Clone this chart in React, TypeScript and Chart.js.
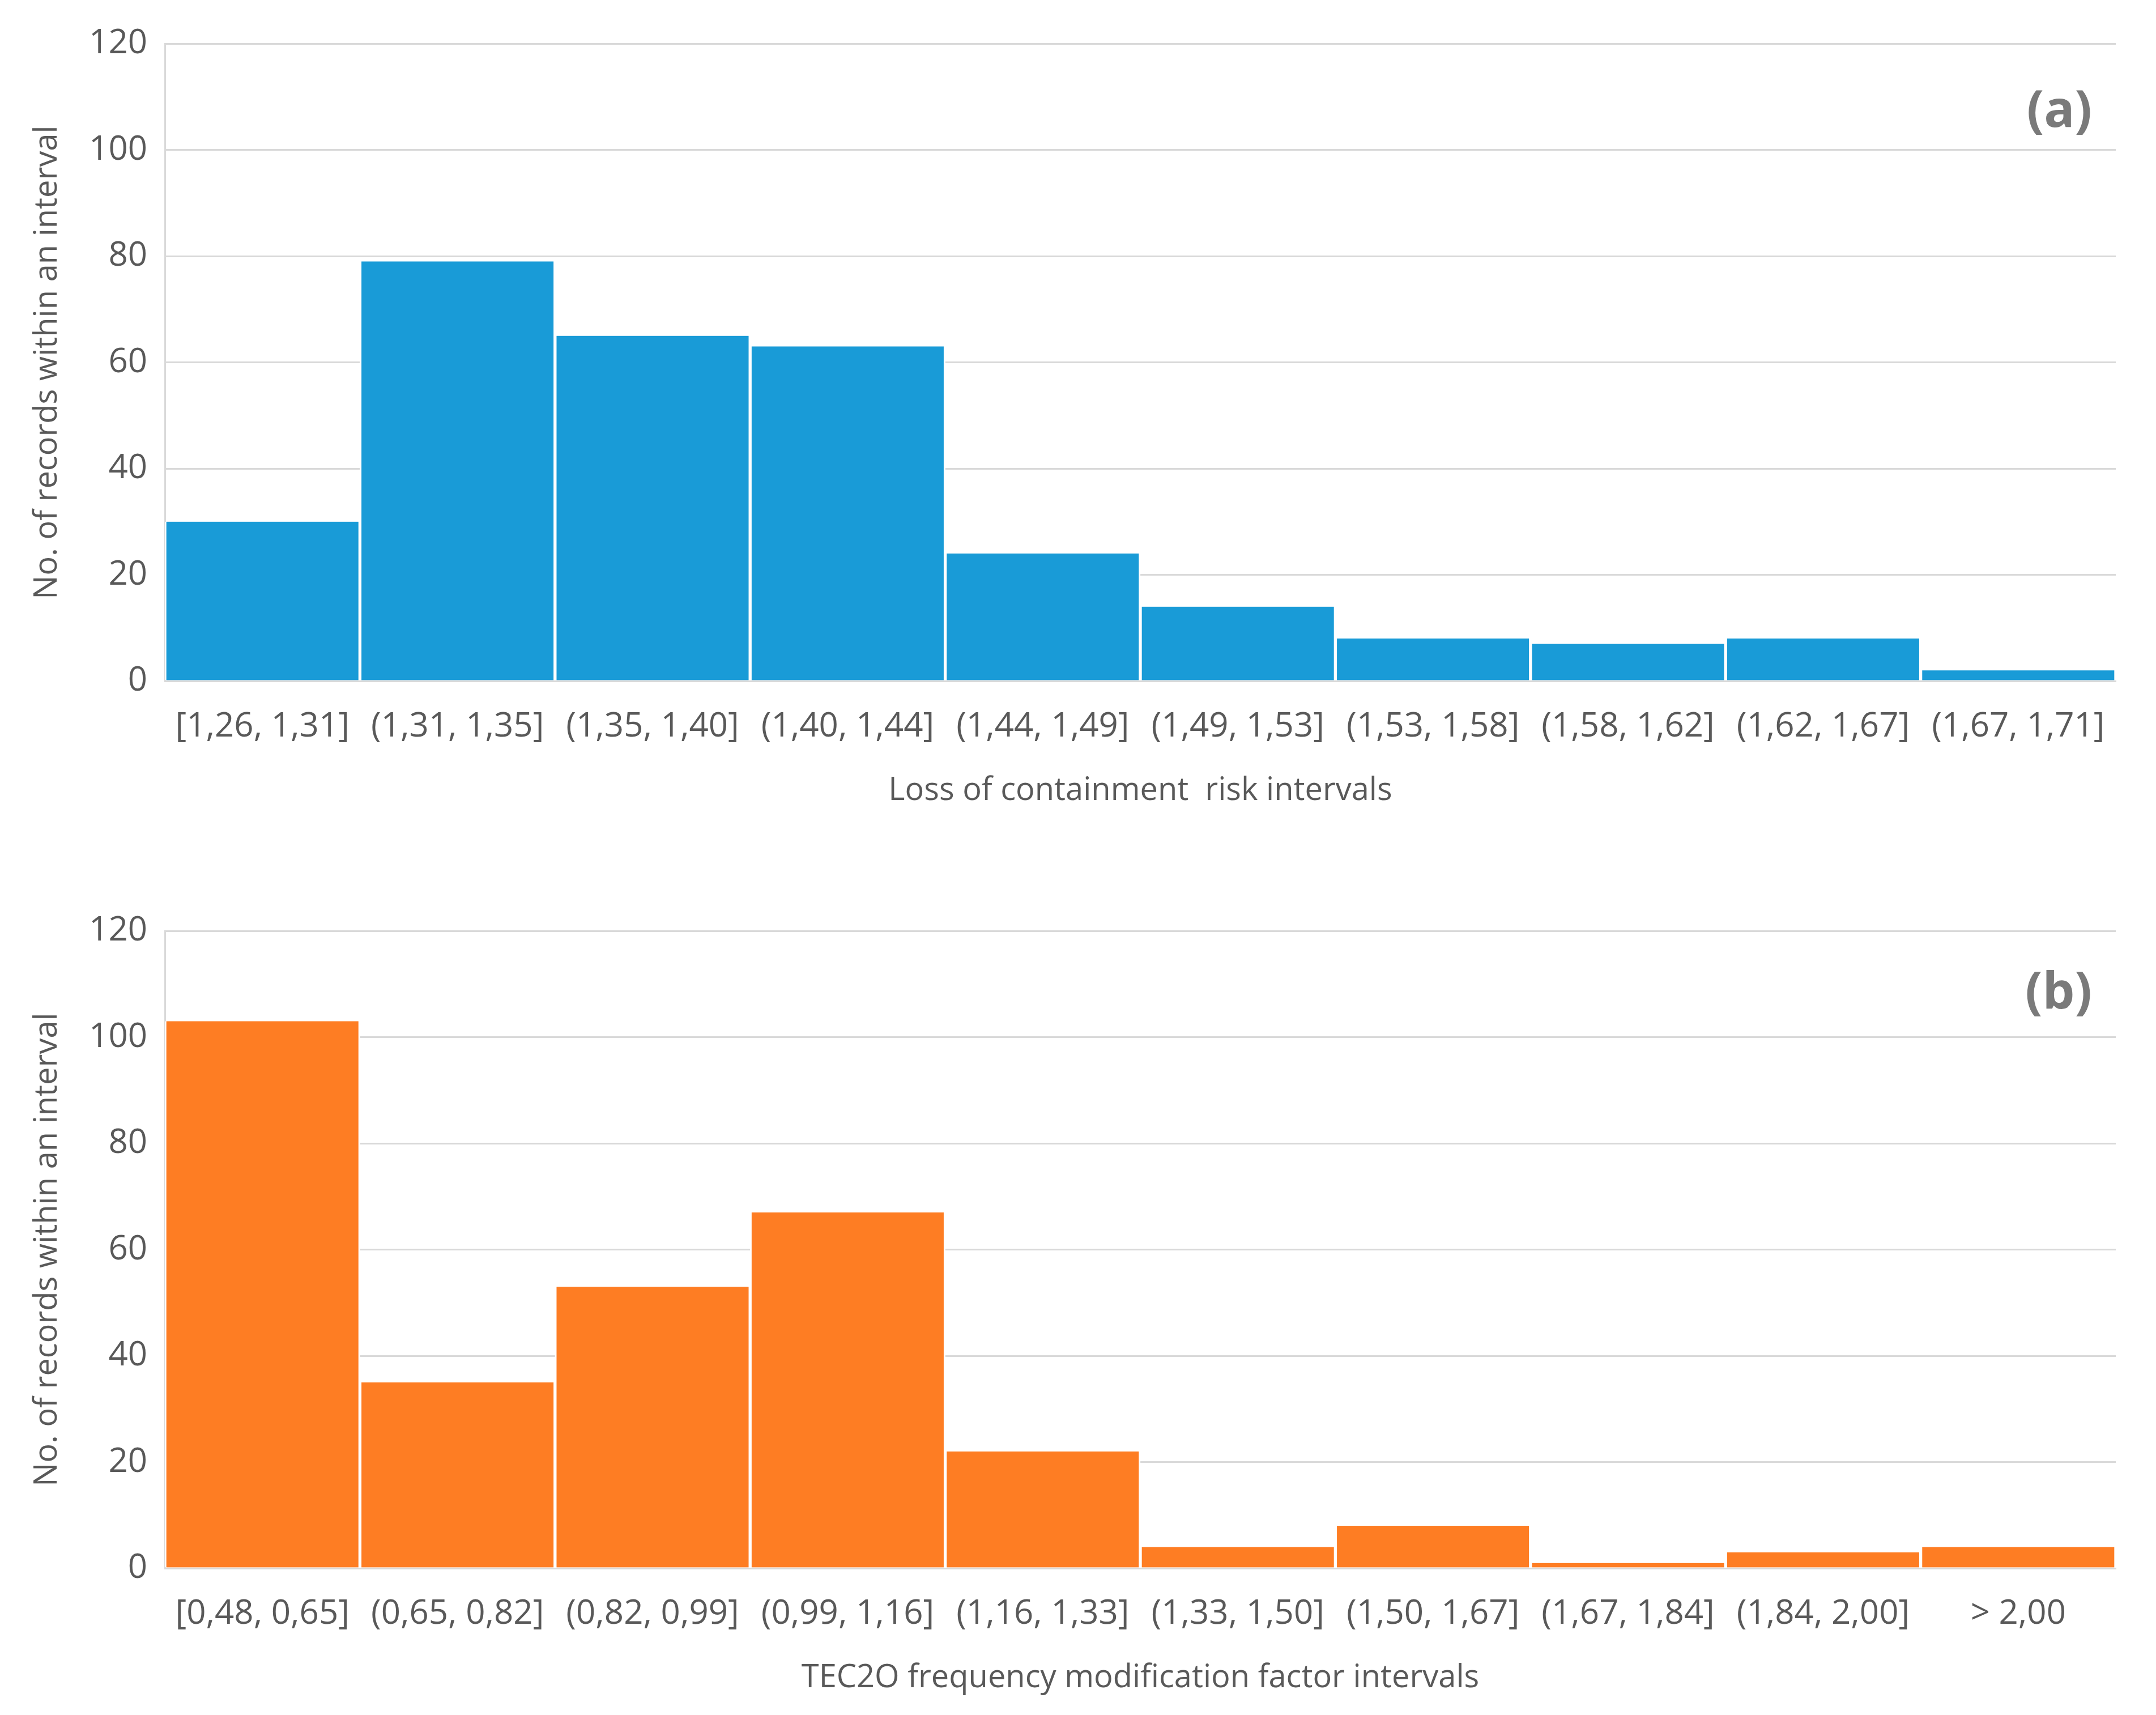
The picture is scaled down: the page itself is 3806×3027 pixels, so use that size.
import React, { useEffect, useRef } from "react";
import { Chart, registerables } from "chart.js";

Chart.register(...registerables);

// ---- data ----
const categoriesA = [
  "[1,26, 1,31]",
  "(1,31, 1,35]",
  "(1,35, 1,40]",
  "(1,40, 1,44]",
  "(1,44, 1,49]",
  "(1,49, 1,53]",
  "(1,53, 1,58]",
  "(1,58, 1,62]",
  "(1,62, 1,67]",
  "(1,67, 1,71]",
];
const countsA = [30, 79, 65, 63, 24, 14, 8, 7, 8, 2];

const categoriesB = [
  "[0,48, 0,65]",
  "(0,65, 0,82]",
  "(0,82, 0,99]",
  "(0,99, 1,16]",
  "(1,16, 1,33]",
  "(1,33, 1,50]",
  "(1,50, 1,67]",
  "(1,67, 1,84]",
  "(1,84, 2,00]",
  "> 2,00",
];
const countsB = [103, 35, 53, 67, 22, 4, 8, 1, 3, 4];

const yTickValues = [0, 20, 40, 60, 80, 100, 120];
const xTitleA = "Loss of containment  risk intervals";
const xTitleB = "TEC2O frequency modification factor intervals";
const yTitleText = "No. of records within an interval";

// ---- layout / style ----
const W = 3806;
const H = 1442;
const FONT = "'Open Sans', 'Noto Sans', sans-serif";
const TEXT_GRAY = "#595959";
const GRID = "#d9d9d9";

type Props = {
  top: number;
  labels: string[];
  values: number[];
  color: string;
  xTitle: string;
  panel: string;
  panelDy: number;
};

function Histogram({ top, labels, values, color, xTitle, panel, panelDy }: Props) {
  const ref = useRef<HTMLCanvasElement | null>(null);

  useEffect(() => {
    if (!ref.current) return;
    const panelPlugin = {
      id: "panelLabel",
      afterDraw(chart: any) {
        const { ctx, chartArea } = chart;
        ctx.save();
        ctx.font = `bold 90px ${FONT}`;
        ctx.fillStyle = "#7a7a7a";
        ctx.textAlign = "right";
        ctx.textBaseline = "middle";
        ctx.fillText(panel, chartArea.right - 42, chartArea.top + panelDy);
        ctx.restore();
      },
    };

    const chart = new Chart(ref.current, {
      type: "bar",
      data: {
        labels,
        datasets: [
          {
            data: values,
            backgroundColor: color,
            borderColor: "#ffffff",
            borderWidth: { left: 3, right: 3, top: 0, bottom: 0 },
            borderSkipped: false,
            barPercentage: 1,
            categoryPercentage: 1,
          },
        ],
      },
      options: {
        animation: false,
        responsive: false,
        devicePixelRatio: 1,
        layout: { padding: { top: 77, left: 0, right: 71, bottom: 0 } },
        plugins: {
          legend: { display: false },
          tooltip: { enabled: false },
        },
        scales: {
          x: {
            offset: true,
            grid: { display: false, drawTicks: false },
            border: { display: true, color: GRID, width: 3 },
            ticks: {
              color: TEXT_GRAY,
              font: { family: FONT, size: 60 },
              padding: 45,
              maxRotation: 0,
              autoSkip: false,
            },
            title: {
              display: true,
              text: xTitle,
              color: TEXT_GRAY,
              font: { family: FONT, size: 56 },
              padding: { top: 0, bottom: 12 },
            },
            afterFit(scale: any) {
              scale.height = 240;
            },
          },
          y: {
            min: 0,
            max: 120,
            grid: { color: GRID, lineWidth: 3, drawTicks: false },
            border: { display: true, color: GRID, width: 3 },
            ticks: {
              color: TEXT_GRAY,
              font: { family: FONT, size: 60 },
              padding: 31,
            },
            title: {
              display: true,
              text: yTitleText,
              color: TEXT_GRAY,
              font: { family: FONT, size: 56 },
              padding: { top: 50, bottom: 0 },
            },
            afterBuildTicks(scale: any) {
              scale.ticks = yTickValues.map((v) => ({ value: v }));
            },
            afterFit(scale: any) {
              scale.width = 291;
            },
          },
        },
      },
      plugins: [panelPlugin],
    } as any);

    return () => chart.destroy();
  }, [labels, values, color, xTitle, panel, panelDy]);

  return (
    <div style={{ position: "absolute", left: 0, top, width: W, height: H }}>
      <canvas ref={ref} width={W} height={H} style={{ width: W, height: H, display: "block" }} />
    </div>
  );
}

export default function App() {
  return (
    <div style={{ position: "absolute", left: 0, top: 0, width: W, height: 3027, background: "#ffffff" }}>
      <Histogram
        top={0}
        labels={categoriesA}
        values={countsA}
        color="#199bd7"
        xTitle={xTitleA}
        panel="(a)"
        panelDy={121}
      />
      <Histogram
        top={1566}
        labels={categoriesB}
        values={countsB}
        color="#fe7d23"
        xTitle={xTitleB}
        panel="(b)"
        panelDy={111}
      />
    </div>
  );
}
